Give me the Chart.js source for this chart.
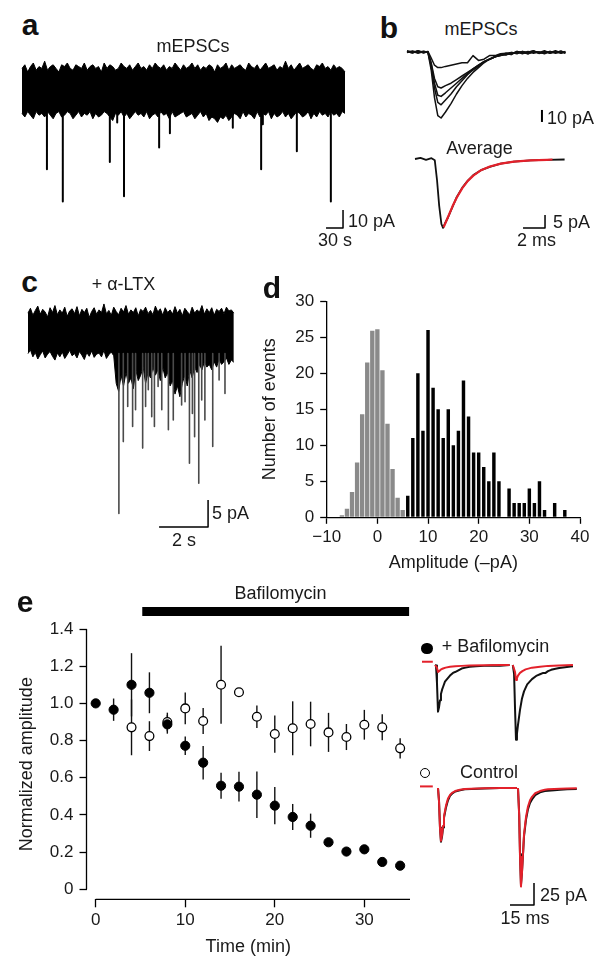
<!DOCTYPE html>
<html><head><meta charset="utf-8">
<script src="https://cdn.jsdelivr.net/npm/chart.js@4.4.0/dist/chart.umd.min.js"></script>
<style>
body{margin:0;background:#fff;}
#fig{position:relative;width:600px;height:965px;overflow:hidden;font-family:"Liberation Sans",Arial,sans-serif;color:#1a1a1a;}
canvas{position:absolute;}
.t{position:absolute;white-space:nowrap;font-size:18px;line-height:1;transform:translate(-50%,-50%);}
.l{transform:translate(0,-50%);}
.p{font-weight:bold;font-size:30px;color:#111;}
.dot{position:absolute;border-radius:50%;box-sizing:border-box;}
</style></head>
<body><div id="fig">
<canvas id="cA"></canvas><canvas id="cB1"></canvas><canvas id="cB2"></canvas><canvas id="cC"></canvas>
<canvas id="cD"></canvas><canvas id="cE"></canvas><canvas id="cE1"></canvas><canvas id="cE2"></canvas>

<div class="t p" style="left:30px;top:25px">a</div>
<div class="t p" style="left:389px;top:28px">b</div>
<div class="t p" style="left:29.5px;top:282px">c</div>
<div class="t p" style="left:272px;top:288px">d</div>
<div class="t p" style="left:25px;top:602px">e</div>

<div class="t" style="left:193px;top:46px">mEPSCs</div>
<div class="t l" style="left:348px;top:221px">10 pA</div>
<div class="t" style="left:335px;top:240px">30 s</div>

<div class="t" style="left:481px;top:29px">mEPSCs</div>
<div class="t l" style="left:547px;top:117.5px">10 pA</div>
<div class="t" style="left:479.5px;top:148px">Average</div>
<div class="t l" style="left:553px;top:222px">5 pA</div>
<div class="t" style="left:536.5px;top:240px">2 ms</div>

<div class="t" style="left:123.5px;top:284px">+ α-LTX</div>
<div class="t l" style="left:212px;top:513px">5 pA</div>
<div class="t" style="left:184px;top:540px">2 s</div>

<div class="t" style="left:280.5px;top:593px">Bafilomycin</div>
<div class="dot" style="left:421px;top:642.5px;width:11.5px;height:11.5px;background:#000"></div>
<div class="t l" style="left:441.7px;top:646px">+ Bafilomycin</div>
<div class="dot" style="left:420px;top:768.3px;width:10px;height:10px;border:1.3px solid #000;background:#fff"></div>
<div class="t l" style="left:460px;top:772px">Control</div>
<div class="t l" style="left:540px;top:895px">25 pA</div>
<div class="t" style="left:525px;top:918px">15 ms</div>
</div>
<script>
// ---------------- DATA ----------------
// Panel a: long mEPSC recording (time in s, current in pA) - noise envelope and events
const aTime = [0,5,10,15,20,25,30,35,40,45,50,55,60,65,70,75,80,85,90,95,100,105,110,115,120,125,130,135,140,145,150,155,160,165,170,175,180,185,190,195,200,205,210,215,220,225,230,235,240,245,250,255,260,265,270,275,280,285,290,295,300,305,310,315,320,325,330,335,340,345,350,355,360,365,370,375,380,385,390,395,400,405,410,415,420,425,430,435,440,445,450,455,460,465,470,475,480,485,490,495,500,505,510,515,520,525,530,535,540,545,550,555,560,565,570];
const aUpper = [12,14,10,13,15,11,13,12,16,11,13,14,12,10,14,13,15,12,11,14,13,12,15,11,13,14,12,13,10,15,12,14,13,11,12,15,13,12,14,11,13,15,12,13,11,14,12,15,13,12,14,11,13,12,15,13,11,14,12,13,15,12,14,11,13,12,14,13,10,14,12,13,15,11,14,12,13,14,12,11,15,13,12,14,11,13,15,12,13,14,11,13,12,16,12,14,11,13,15,12,13,14,12,11,14,13,15,12,13,11,14,12,13,12,10];
const aLower = [-13,-15,-12,-14,-16,-12,-14,-13,-15,-12,-14,-16,-13,-12,-15,-14,-12,-13,-16,-14,-12,-15,-13,-14,-12,-16,-13,-15,-14,-12,-13,-15,-17,-13,-14,-12,-15,-13,-16,-14,-12,-14,-13,-15,-12,-16,-14,-13,-15,-12,-14,-13,-16,-12,-15,-14,-13,-12,-15,-14,-13,-16,-14,-12,-15,-13,-17,-15,-16,-18,-15,-16,-14,-17,-15,-13,-14,-16,-12,-15,-13,-14,-16,-12,-15,-13,-14,-12,-16,-13,-15,-14,-12,-15,-13,-16,-14,-12,-13,-15,-14,-12,-16,-13,-15,-12,-14,-13,-15,-12,-14,-13,-15,-12,-13];
const aEventTime = [44,72,155,168,180,242,261,372,422,425,485,545];
const aEventAmp = [-44,-62,-40,-18,-59,-32,-24,-21,-44,-19,-34,-62];
const aScale = {t:30, pA:10};

// Panel b: single mEPSCs (ms, pA)
const bTime = [0,0.5,1,1.5,1.9,2.2,2.5,2.8,3.1,3.5,4,4.5,5,5.5,6,6.5,7,7.5,8,8.5,9,9.5,10,10.5,11,11.5,12,12.5,13,13.5,14,14.4];
const bTrace1 = [0.5,-0.8,1,-0.5,0,-15,-38,-53,-55,-50,-43,-35,-28,-22,-17,-13,-9,-6,-4,-3,-2,-1,0,-1.5,0.5,-1,0,-1.5,0.5,-1,0,-0.5];
const bTrace2 = [-0.5,0.8,-0.3,0.6,-0.2,-12,-30,-42,-44,-40,-35,-29,-24,-19,-15,-12,-8,-6,-4,-2.5,-1.5,-2,0.5,-1,0,0.8,-1,0,-0.8,0.5,-1,0];
const bTrace3 = [1,0,0.7,-0.8,0.3,-10,-26,-36,-37,-34,-30,-26,-22,-18,-14,-11,-8,-6,-4,-3,-1,-0.5,-1.5,0.5,-0.5,1,-1.2,0.3,-0.5,1,-0.8,0.5];
const bTrace4 = [-0.3,0.5,-1,0.4,0,-9,-22,-29,-30,-28,-26,-23,-20,-17,-14,-11,-8,-6,-4,-2,-2.5,-0.5,-1,0.5,-1.5,0,-0.5,1,-1,0,0.5,-1];
const bTrace5 = [0.3,-0.6,0.8,-0.2,0.5,-5,-11,-13,-13,-12,-11,-10,-9,-9,-3,-7,-6,-3,-3,-1.5,-1,-2,0.5,-0.5,-1.5,0.5,0,-1,0.5,-0.5,0.8,-1];
const bScaleTop = {pA:10};
// Average and exponential fit
const bAvgTime = [0,0.5,1,1.5,1.8,2.0,2.2,2.4,2.55,2.7,3.0,3.4,3.8,4.3,4.8,5.3,6,6.8,7.8,9,10.5,12,13.6];
const bAvgVal = [0,0.4,-0.3,0.3,-0.5,-8,-18,-25,-26.5,-25,-22.5,-18.5,-14.6,-11,-8.3,-6.2,-4.3,-3,-1.8,-1,-0.5,-0.3,-0.2];
const bFitTime = [2.6,3.0,3.4,3.8,4.3,4.8,5.3,6,6.8,7.8,9,10.5,12,12.5];
const bFitVal = [-26.3,-22.3,-18.3,-14.8,-11.2,-8.4,-6.4,-4.3,-2.9,-1.8,-1,-0.5,-0.3,-0.2];
const bScaleAvg = {ms:2, pA:5};

// Panel c: + alpha-LTX (s, pA)
const cTime = [0,0.1,0.2,0.3,0.4,0.5,0.6,0.7,0.8,0.9,1,1.1,1.2,1.3,1.4,1.5,1.6,1.7,1.8,1.9,2,2.1,2.2,2.3,2.4,2.5,2.6,2.7,2.8,2.9,3,3.1,3.2,3.3,3.4,3.5,3.6,3.7,3.8,3.9,4,4.1,4.2,4.3,4.4,4.5,4.6,4.7,4.8,4.9,5,5.1,5.2,5.3,5.4,5.5,5.6,5.7,5.8,5.9,6,6.1,6.2,6.3,6.4,6.5,6.6,6.7,6.8,6.9,7,7.1,7.2,7.3,7.4,7.5,7.6,7.7,7.8,7.9,8,8.1,8.2,8.3,8.4];
const cUpper = [3.5,4.4,3.1,4.0,4.8,3.3,4.2,3.7,2.8,4.5,3.6,4.9,3.2,4.1,3.5,4.6,2.9,3.9,4.3,3.4,4.7,3.0,4.2,3.6,4.4,2.7,3.8,4.5,3.3,4.1,3.6,5.2,3.4,4.0,3.1,4.6,3.8,3.2,4.4,3.7,4.9,3.3,4.1,3.6,4.5,3.0,4.2,3.8,4.6,3.4,4.0,3.2,4.8,3.7,4.3,3.1,4.5,3.6,4.1,3.3,4.7,3.5,4.2,3.0,4.4,3.8,3.2,4.6,3.5,4.1,3.7,4.9,3.3,4.3,3.6,4.5,3.1,4.2,3.8,4.4,3.4,4.6,3.9,4.1,3.5];
const cLower = [-4.0,-3.3,-4.6,-3.8,-5.0,-4.2,-3.5,-4.8,-4.1,-3.6,-4.5,-5.2,-3.9,-4.6,-3.7,-4.9,-4.2,-3.4,-4.4,-4.0,-4.8,-3.6,-4.3,-5.1,-3.8,-4.5,-3.5,-4.7,-4.1,-3.9,-4.6,-3.4,-4.9,-4.2,-3.7,-4.4,-9.5,-11,-8,-10,-7.5,-9.5,-8.5,-10.5,-7,-9,-8,-6.5,-9.5,-7.5,-8.5,-6.5,-8,-7,-9,-6.5,-8.5,-7.5,-10,-9,-11.5,-10,-12,-9.5,-8,-10,-7,-8.5,-6.5,-7.5,-6,-7,-5.5,-6.5,-6,-7,-5.5,-6.5,-5,-6,-5.5,-4.8,-6,-5.2,-5.6];
const cEventTime = [3.71,3.89,4.07,4.27,4.39,4.68,4.80,4.91,5.05,5.16,5.31,5.46,5.73,5.93,6.27,6.41,6.59,6.71,6.80,6.97,7.09,7.22,7.54,7.80,8.04];
const cEventAmp = [-33.6,-20.3,-13.8,-17.5,-14.4,-21.5,-13.8,-10.7,-15.7,-17.5,-10.1,-14.4,-18.1,-16.3,-13.5,-12.9,-24.3,-15.1,-19.4,-28,-12.6,-16.3,-21.2,-8.9,-11.4];
const cScale = {t:2, pA:5};

// Panel d: amplitude histogram
const dNoiseBins = [-7,-6,-5,-4,-3,-2,-1,0,1,2,3,4,5];
const dNoiseCounts = [0.3,1.2,3.5,7.6,14.3,21.5,25.9,26.1,20.4,13.0,6.7,2.7,1.0];
const dEventBins = [6,7,8,9,10,11,12,13,14,15,16,17,18,19,20,21,22,23,24,25,26,27,28,29,30,31,32,33,34,35,36,37];
const dEventCounts = [3,11,20,12,26,18,15,11,15,10,12,19,14,9,9,7,5,9,5,0,4,2,2,2,4,2,5,1,0,2,0,1];
const dXTicks = [-10,0,10,20,30,40];
const dXTickLabels = ['\u221210','0','10','20','30','40'];
const dYTicks = [0,5,10,15,20,25,30];

// Panel e: normalized amplitude vs time
const eTime = [0,2,4,6,8,10,12,14,16,18,20,22,24,26,28,30,32,34];
const bafMean = [1.00,0.966,1.10,1.057,0.887,0.772,0.681,0.557,0.552,0.509,0.45,0.389,0.342,0.253,0.203,0.215,0.147,0.127];
const bafErr = [0.01,0.06,0.17,0.11,0.05,0.05,0.09,0.07,0.08,0.125,0.10,0.07,0.065,0,0,0,0,0];
const ctrlTime = [4,6,8,10,12,14,16,18,20,22,24,26,28,30,32,34];
const ctrlMean = [0.871,0.824,0.90,0.973,0.905,1.10,1.06,0.928,0.835,0.866,0.889,0.844,0.819,0.885,0.871,0.758];
const ctrlErr = [0.15,0.08,0.05,0.085,0.07,0.21,0.01,0.06,0.10,0.145,0.12,0.105,0.07,0.08,0.07,0.055];
const bafPeriod = [5.2,35.0];
const eXTicks = [0,10,20,30];
const eYTicks = [0,0.2,0.4,0.6,0.8,1.0,1.2,1.4];
const eYTickLabels = ['0','0.2','0.4','0.6','0.8','1.0','1.2','1.4'];

// Panel e insets: paired-pulse EPSCs (ms, pA)
const bafBlk1T = [9.4,10,10.6,11.25,11.9,12.5,13.1,13.8,14.4,15.6,16.9,18.75,20.6,21.9,24,26,28.5,31,35,40,45,50,56];
const bafBlk1V = [0,-0.5,-20,-53,-48,-40,-33,-28,-25,-19,-16,-12,-9,-8,-6,-4,-3,-2,-1.5,-1,-0.5,-0.8,0];
const bafBlk2T = [58,58.8,59.4,60,60.6,61.25,62.5,63.75,65,67,70,73,75,77,78.5,80,82,84,87,90.6,93,95.6];
const bafBlk2V = [0,-10,-50,-85,-78,-68,-51,-38,-30,-22,-16,-12,-10.5,-9,-9,-7,-5.5,-4.5,-3.5,-2.5,-2,-1.5];
const bafRed0T = [1.25,8];
const bafRed0V = [3.7,3.7];
const bafRed1T = [9.4,10.6,11.25,11.9,13.1,14.4,16,18.75,22,26,31,40,50,56];
const bafRed1V = [0,-3,-8,-7,-5,-4,-3,-2,-1.5,-1,-0.5,-0.3,0,0];
const bafRed2T = [58,59.4,60,60.6,61.25,62.5,64,66,70,75,80,87,95.6];
const bafRed2V = [0,-8,-17,-15,-12,-9,-7,-5,-3,-2,-1,-0.5,0];
const ctlBlk1T = [11.25,11.9,12.5,13.1,13.8,14.4,15,16.25,17.5,18.75,20,22,25,28,32,40,50,60.6];
const ctlBlk1V = [0,-15,-45,-61,-55,-45,-34,-22,-14,-9,-6.5,-4,-2.5,-1.5,-1,-0.5,0,0];
const ctlRed1V = [0,-16,-46,-60,-53,-43,-32,-20,-12,-8,-5.5,-3.5,-2,-1.2,-0.8,-0.3,0,0];
const ctlBlk2T = [61.25,62,62.5,63.1,63.75,64.4,65,66.25,67.5,68.75,70,72,75,78,80,84,87.5,92,98];
const ctlBlk2V = [0,-30,-75,-110,-95,-75,-55,-36,-24,-17,-13,-8,-5,-3.5,-3,-2.5,-2,-1.5,-1];
const ctlRed2V = [0,-32,-78,-112,-96,-74,-53,-33,-21,-14,-10,-6,-3.5,-2,-1.5,-1,-0.8,-0.5,-0.3];
const ctlRed0T = [0,8];
const ctlRed0V = [1.8,1.8];
const eScale = {ms:15, pA:25};

// ---------------- LAYOUT (canvas boxes, axis windows, scale-bar anchors) ----------------
const L = {
  a:  {box:[20,55,330,180],  x:[-3.53,578.8],   y:[-80.56,19.44], bar:[536.5,-76.7]},
  b1: {box:[400,40,170,90],  x:[-0.636,14.82],  y:[-65,10],       bar:[12.27,-58.3]},
  b2: {box:[405,150,170,85], x:[-0.909,14.545], y:[-29.23,3.46],  bar:[9.82,-26.5]},
  c:  {box:[25,300,215,235], x:[-0.122,8.653],  y:[-37.6,5.93],   bar:[5.35,-36.1]},
  d:  {box:[255,285,345,290]},
  e:  {box:[0,580,420,385]},
  e1: {box:[415,655,175,95],  x:[-3.125,106.25], y:[-96.6,11.36]},
  e2: {box:[415,780,175,130], x:[-3.125,106.25], y:[-138.64,9.09], bar:[56.25,-133]}
};
const RED = '#e3212b', INK = '#1a1a1a';

Chart.defaults.font.family = '"Liberation Sans", Arial, sans-serif';
Chart.defaults.color = INK;

function place(id, box){ const c=document.getElementById(id); c.width=box[2]; c.height=box[3]; c.style.left=box[0]+'px'; c.style.top=box[1]+'px'; return c; }
function xy(xs, ys){ return xs.map((x,i)=>({x:x, y:ys[i]})); }
function ln(data, color, w, extra){ return Object.assign({data:data, borderColor:color, backgroundColor:color, borderWidth:w, pointRadius:0, fill:false, spanGaps:false, clip:false, tension:0}, extra||{}); }
function spikes(ts, amps, base){ const out=[]; ts.forEach((t,i)=>{ out.push({x:t,y:base},{x:t,y:amps[i]},{x:t,y:null}); }); return out; }
function bar(anchor, dx, dy){ const [x0,y0]=anchor; return [{x:x0,y:y0},{x:x0+dx,y:y0},{x:x0+dx,y:y0+dy}]; }
function trace(id, lay, datasets){
  return new Chart(place(id, lay.box), {type:'line', data:{datasets:datasets}, options:{
    responsive:false, animation:false, events:[], devicePixelRatio:1,
    layout:{padding:0},
    plugins:{legend:{display:false}, tooltip:{enabled:false}},
    elements:{point:{radius:0}, line:{tension:0, borderJoinStyle:'round', borderCapStyle:'butt'}},
    scales:{x:{type:'linear', display:false, min:lay.x[0], max:lay.x[1]},
            y:{type:'linear', display:false, min:lay.y[0], max:lay.y[1]}}
  }});
}

// Panel a
trace('cA', L.a, [
  ln(bar(L.a.bar, aScale.t, aScale.pA), '#000', 1.5),
  ln(spikes(aEventTime, aEventAmp, -11), '#000', 2),
  ln(xy(aTime, aUpper), '#000', 1, {fill:'+1', backgroundColor:'#000'}),
  ln(xy(aTime, aLower), '#000', 1)
]);
// Panel b top
trace('cB1', L.b1, [
  ln(bar(L.b1.bar, 0, bScaleTop.pA), '#000', 2),
  ln(xy(bTime, bTrace1), '#111', 1.5),
  ln(xy(bTime, bTrace2), '#111', 1.5),
  ln(xy(bTime, bTrace3), '#111', 1.5),
  ln(xy(bTime, bTrace4), '#111', 1.5),
  ln(xy(bTime, bTrace5), '#111', 1.5)
]);
// Panel b bottom
trace('cB2', L.b2, [
  ln(bar(L.b2.bar, bScaleAvg.ms, bScaleAvg.pA), '#000', 1.5),
  ln(xy(bFitTime, bFitVal), RED, 2.2),
  ln(xy(bAvgTime, bAvgVal), '#111', 1.8)
]);
// Panel c
trace('cC', L.c, [
  ln(bar(L.c.bar, cScale.t, cScale.pA), '#000', 1.5),
  ln(spikes(cEventTime, cEventAmp, -4), '#4a4a4a', 1.6),
  ln(xy(cTime, cUpper), '#000', 1, {fill:'+1', backgroundColor:'#000'}),
  ln(xy(cTime, cLower), '#000', 1)
]);
// Panel e insets
trace('cE1', L.e1, [
  ln(xy(bafRed0T, bafRed0V), RED, 2),
  ln(xy(bafRed1T, bafRed1V), RED, 2),
  ln(xy(bafRed2T, bafRed2V), RED, 2),
  ln(xy(bafBlk1T, bafBlk1V), '#111', 2),
  ln(xy(bafBlk2T, bafBlk2V), '#111', 2)
]);
trace('cE2', L.e2, [
  ln(bar(L.e2.bar, eScale.ms, eScale.pA), '#000', 1.5),
  ln(xy(ctlRed0T, ctlRed0V), RED, 2),
  ln(xy(ctlBlk1T, ctlRed1V), RED, 2),
  ln(xy(ctlBlk2T, ctlRed2V), RED, 2),
  ln(xy(ctlBlk1T, ctlBlk1V), '#111', 2),
  ln(xy(ctlBlk2T, ctlBlk2V), '#111', 2)
]);

// Panel d histogram
new Chart(place('cD', L.d.box), {
  type:'bar',
  data:{datasets:[
    {data:xy(dEventBins, dEventCounts), backgroundColor:'#000', grouped:false, barPercentage:0.68, categoryPercentage:1},
    {data:xy(dNoiseBins, dNoiseCounts), backgroundColor:'#8a8a8a', grouped:false, barPercentage:0.86, categoryPercentage:1}
  ]},
  options:{responsive:false, animation:false, events:[], devicePixelRatio:1,
    layout:{padding:{top:10, right:20, left:0, bottom:0}},
    plugins:{legend:{display:false}, tooltip:{enabled:false}},
    scales:{
      x:{type:'linear', min:-10, max:40, offset:false,
         afterBuildTicks:s=>{ s.ticks = dXTicks.map(v=>({value:v})); },
         ticks:{callback:(v,i)=>dXTickLabels[i], font:{size:17}, color:INK, padding:3.4, maxRotation:0, autoSkip:false},
         grid:{display:true, offset:false, drawOnChartArea:false, drawTicks:true, tickLength:6.5, tickColor:'#000', tickWidth:1.3},
         border:{display:true, color:'#000', width:1.3},
         title:{display:true, text:'Amplitude (\u2013pA)', font:{size:18}, color:INK, padding:{top:0, bottom:1.2}},
         afterFit:s=>{ s.height = 57.7; }},
      y:{type:'linear', min:0, max:30,
         afterBuildTicks:s=>{ s.ticks = dYTicks.map(v=>({value:v})); },
         ticks:{font:{size:17}, color:INK, padding:6},
         grid:{display:true, drawOnChartArea:false, drawTicks:true, tickLength:6.5, tickColor:'#000', tickWidth:1.3},
         border:{display:true, color:'#000', width:1.3},
         title:{display:true, text:'Number of events', font:{size:18}, color:INK, padding:{top:4.2, bottom:0}},
         afterFit:s=>{ s.width = 71.7; }}
    }}
});

// Panel e main plot
const eDecor = {
  id:'eDecor',
  beforeDatasetsDraw(chart){
    const {ctx, scales:{x, y}} = chart;
    ctx.save(); ctx.strokeStyle='#111'; ctx.lineWidth=1.4;
    chart.data.datasets.forEach(ds=>{
      if(!ds.errors) return;
      ds.data.forEach((p,i)=>{
        const e = ds.errors[i]; if(!e) return;
        const px = x.getPixelForValue(p.x);
        ctx.beginPath(); ctx.moveTo(px, y.getPixelForValue(p.y-e)); ctx.lineTo(px, y.getPixelForValue(p.y+e)); ctx.stroke();
      });
    });
    ctx.restore();
  },
  afterDraw(chart){
    const {ctx, chartArea:a, scales:{x, y}} = chart;
    ctx.save(); ctx.strokeStyle='#000'; ctx.lineWidth=1.3;
    ctx.beginPath(); ctx.moveTo(a.left, y.getPixelForValue(eYTicks[0])); ctx.lineTo(a.left, y.getPixelForValue(eYTicks[eYTicks.length-1])); ctx.stroke();
    ctx.beginPath(); ctx.moveTo(x.getPixelForValue(eXTicks[0]), a.bottom); ctx.lineTo(a.right, a.bottom); ctx.stroke();
    const x1 = x.getPixelForValue(bafPeriod[0]), x2 = x.getPixelForValue(bafPeriod[1]);
    ctx.fillStyle='#000'; ctx.fillRect(x1, a.top-22, x2-x1, 9);
    ctx.restore();
  }
};
new Chart(place('cE', L.e.box), {
  type:'scatter',
  data:{datasets:[
    {data:xy(eTime, bafMean), errors:bafErr, pointRadius:4.6, backgroundColor:'#000', borderColor:'#000', borderWidth:1, showLine:false},
    {data:xy(ctrlTime, ctrlMean), errors:ctrlErr, pointRadius:4.4, backgroundColor:'#fff', borderColor:'#000', borderWidth:1.3, showLine:false}
  ]},
  options:{responsive:false, animation:false, events:[], devicePixelRatio:1,
    layout:{padding:{top:49, right:10, left:0, bottom:0}},
    plugins:{legend:{display:false}, tooltip:{enabled:false}},
    scales:{
      x:{type:'linear', min:-1.028, max:35.1,
         afterBuildTicks:s=>{ s.ticks = eXTicks.map(v=>({value:v})); },
         ticks:{font:{size:17}, color:INK, padding:2.5, maxRotation:0, autoSkip:false},
         grid:{display:true, drawOnChartArea:false, drawTicks:true, tickLength:8, tickColor:'#000', tickWidth:1.3},
         border:{display:false},
         title:{display:true, text:'Time (min)', font:{size:18}, color:INK, padding:{top:0, bottom:7.5}},
         afterFit:s=>{ s.height = 65.7; }},
      y:{type:'linear', min:-0.0538, max:1.4,
         afterBuildTicks:s=>{ s.ticks = eYTicks.map(v=>({value:v})); },
         ticks:{callback:(v,i)=>eYTickLabels[i], font:{size:17}, color:INK, padding:6, autoSkip:false},
         grid:{display:true, drawOnChartArea:false, drawTicks:true, tickLength:7, tickColor:'#000', tickWidth:1.3},
         border:{display:false},
         title:{display:true, text:'Normalized amplitude', font:{size:18}, color:INK, padding:{top:16.2, bottom:0}},
         afterFit:s=>{ s.width = 86.5; }}
    }},
  plugins:[eDecor]
});
</script>
</body></html>
